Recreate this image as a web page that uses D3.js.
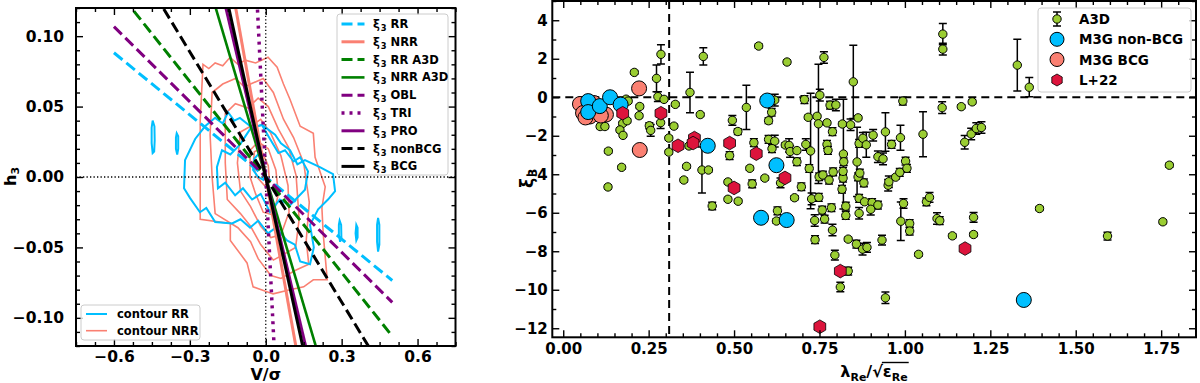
<!DOCTYPE html>
<html><head><meta charset="utf-8">
<script src="https://cdn.jsdelivr.net/npm/d3@7"></script>
<style>body{margin:0;background:#fff}svg{display:block}text{font-family:"DejaVu Sans",sans-serif;font-weight:bold;fill:#000}</style>
</head><body><svg id="c" width="1200" height="383"></svg>
<script>
// ---------------- DATA ----------------
// Left panel: fitted xi3 relations h3 = slope * (V/sigma)
const fitNames = ["RR","NRR","RR A3D","NRR A3D","OBL","TRI","PRO","nonBCG","BCG"];
const fitSlopes = [-0.147,-1.01,-0.226,-0.607,-0.178,-3.64,-0.762,-0.296,-0.822];
const fitRange = [-0.6, 0.5];
const contourNames = ["contour RR","contour NRR"];
const leftXTicks = [-0.6,-0.3,0,0.3,0.6];
const leftYTicks = [-0.10,-0.05,0,0.05,0.10];

// NRR density contours (V/sigma, h3)
const nrrContours = [
 [[-0.248,0.080],[-0.225,0.077],[-0.200,0.081],[-0.170,0.079],[-0.141,0.085],[-0.110,0.080],[-0.081,0.083],[-0.040,0.081],[0.009,0.085],[0.045,0.078],[0.070,0.066],[0.096,0.055],[0.136,0.036],[0.188,0.031],[0.195,0.014],[0.235,-0.007],[0.222,-0.022],[0.227,-0.040],[0.243,-0.073],[0.188,-0.073],[0.150,-0.078],[0.096,-0.080],[0.029,-0.083],[-0.050,-0.078],[-0.074,-0.061],[-0.140,-0.045],[-0.140,-0.033],[-0.259,-0.030],[-0.259,0.000],[-0.259,0.040]],
 [[-0.212,0.060],[-0.170,0.066],[-0.120,0.070],[-0.085,0.064],[-0.060,0.066],[-0.010,0.070],[0.030,0.060],[0.070,0.041],[0.110,0.028],[0.150,0.010],[0.172,-0.018],[0.160,-0.045],[0.170,-0.062],[0.120,-0.066],[0.060,-0.072],[0.020,-0.070],[-0.030,-0.058],[-0.060,-0.046],[-0.110,-0.036],[-0.200,-0.026],[-0.212,0.000],[-0.220,0.030]],
 [[-0.160,0.045],[-0.120,0.052],[-0.070,0.049],[-0.030,0.056],[0.010,0.050],[0.050,0.034],[0.090,0.021],[0.120,0.001],[0.132,-0.030],[0.118,-0.050],[0.070,-0.055],[0.030,-0.059],[-0.020,-0.048],[-0.060,-0.035],[-0.100,-0.026],[-0.152,-0.016],[-0.160,0.010]],
 [[-0.100,0.032],[-0.060,0.036],[-0.020,0.041],[0.020,0.031],[0.060,0.015],[0.088,-0.006],[0.092,-0.025],[0.060,-0.041],[0.020,-0.043],[-0.020,-0.035],[-0.060,-0.021],[-0.100,-0.010],[-0.112,0.010]],
 [[-0.062,0.019],[-0.030,0.025],[0.010,0.020],[0.040,0.005],[0.050,-0.012],[0.030,-0.027],[-0.010,-0.025],[-0.040,-0.012],[-0.062,0.000]],
 [[-0.045,0.018],[-0.020,0.020],[0.010,0.008],[0.015,-0.004],[-0.005,-0.006],[-0.035,0.000],[-0.050,0.008]]
];
// RR density contours
const rrContours = [
 [[-0.319,0.012],[-0.279,0.027],[-0.240,0.036],[-0.200,0.042],[-0.170,0.038],[-0.149,0.046],[-0.125,0.040],[-0.102,0.042],[-0.054,0.035],[-0.015,0.037],[0.037,0.030],[0.060,0.024],[0.096,0.019],[0.125,0.009],[0.155,0.012],[0.214,0.007],[0.266,0.002],[0.274,-0.010],[0.246,-0.016],[0.207,-0.023],[0.175,-0.034],[0.190,-0.050],[0.175,-0.062],[0.136,-0.060],[0.115,-0.048],[0.084,-0.045],[0.040,-0.036],[0.009,-0.040],[-0.030,-0.031],[-0.062,-0.036],[-0.100,-0.030],[-0.133,-0.033],[-0.200,-0.032],[-0.235,-0.022],[-0.260,-0.025],[-0.299,-0.015],[-0.323,-0.008]],
 [[-0.193,0.007],[-0.173,0.019],[-0.140,0.016],[-0.102,0.023],[-0.062,0.034],[-0.015,0.037],[0.017,0.027],[0.050,0.017],[0.076,0.019],[0.110,0.011],[0.136,0.014],[0.167,0.004],[0.155,-0.009],[0.096,-0.020],[0.055,-0.016],[0.017,-0.025],[-0.020,-0.012],[-0.054,-0.016],[-0.090,-0.008],[-0.121,-0.013],[-0.160,-0.004],[-0.189,-0.008]],
 [[-0.050,0.005],[-0.045,0.013],[-0.025,0.017],[-0.010,0.012],[0.000,0.004],[-0.010,-0.002],[-0.030,0.000]],
 [[-0.447,0.040],[-0.440,0.036],[-0.439,0.026],[-0.441,0.018],[-0.447,0.017],[-0.451,0.024],[-0.451,0.035]],
 [[-0.352,0.031],[-0.346,0.029],[-0.346,0.020],[-0.350,0.016],[-0.355,0.020],[-0.355,0.028]],
 [[0.292,-0.031],[0.298,-0.034],[0.299,-0.043],[0.294,-0.046],[0.289,-0.041],[0.289,-0.034]],
 [[0.358,-0.034],[0.363,-0.036],[0.363,-0.043],[0.358,-0.045],[0.355,-0.040]],
 [[0.444,-0.029],[0.449,-0.034],[0.449,-0.048],[0.444,-0.053],[0.440,-0.046],[0.440,-0.034]]
];

// Right panel: xi3 vs lambda_Re/sqrt(eps_Re)
const seriesNames = ["A3D","M3G non-BCG","M3G BCG","L+22"];
const rightXTicks = [0,0.25,0.5,0.75,1.0,1.25,1.5,1.75];
const rightYTicks = [-12,-10,-8,-6,-4,-2,0,2,4];
const lambdaCut = 0.31;
// A3D: [x, xi3, error]
const a3d = [
[0.108,-1.52,0.1],[0.122,-1.52,0.1],[0.132,-2.8,0.1],[0.131,-4.66,0.1],[0.174,-1.36,0.1],[0.187,-1.22,0.1],[0.166,-1.7,0.1],[0.175,-1.98,0.1],[0.171,-3.64,0.1],[0.184,-0.1,0.1],[0.19,-0.2,0.1],[0.208,1.29,0.1],[0.224,-0.48,0.1],[0.222,-0.96,0.1],[0.252,-1.48,0.15],[0.256,-1.72,0.3],[0.273,0.98,0.7],[0.286,2.23,0.5],[0.277,0.03,0.25],[0.295,-0.11,0.1],[0.285,-1.32,0.3],[0.309,-2.12,0.1],[0.309,-2.85,0.1],[0.324,-1.5,0.1],[0.328,-0.37,0.1],[0.371,0.25,1.05],[0.361,-3.59,0.1],[0.353,-4.3,0.1],[0.401,-0.9,0.1],[0.41,2.12,0.45],[0.406,-3.78,1.2],[0.425,-3.78,0.1],[0.436,-5.65,0.2],[0.368,-2.53,0.1],
[0.495,-1.2,0.25],[0.511,-1.78,0.15],[0.536,-0.53,1.15],[0.487,-3.03,0.2],[0.482,-4.4,0.1],[0.482,-5.3,0.1],[0.512,-5.4,0.1],[0.546,-3.69,0.1],[0.553,-4.5,0.2],[0.558,-2.36,0.2],[0.572,2.66,0.1],[0.59,-4.2,0.1],[0.601,-2.19,0.2],[0.61,-0.78,0.2],[0.601,-1.22,0.15],[0.619,-0.15,0.3],[0.619,-2.28,0.3],[0.611,-2.67,0.2],[0.627,-5.9,0.2],[0.624,-6.43,0.1],[0.636,-4.45,0.25],[0.65,-2.48,0.1],[0.655,1.83,0.1],[0.661,-2.5,0.35],[0.664,-2.82,0.3],[0.677,-5.22,0.1],[0.684,-2.77,0.1],[0.684,-3.35,0.2],[0.697,-4.65,0.2],[0.706,-0.12,0.2],[0.71,-2.45,0.3],[0.717,-1.04,0.1],[0.72,-3.7,0.2],[0.724,-2.79,3.0],[0.727,-5.28,0.3],[0.736,-6.4,0.3],[0.737,-7.4,0.2],[0.743,-0.99,0.1],[0.747,-1.38,3.1],[0.751,0.11,0.3],[0.749,-4.13,0.2],[0.748,-5.2,0.2],[0.758,-5.86,0.2],[0.763,2.07,0.3],[0.76,-4.04,0.2],[0.765,-6.33,0.2],[0.772,-1.33,0.1],[0.772,-2.45,0.2],[0.775,-2.76,0.2],[0.781,-0.41,0.2],[0.778,-4.3,0.2],[0.788,-6.9,0.3],[0.788,-1.79,0.2],[0.798,-0.4,0.3],[0.785,-5.74,0.2],[0.795,-8.2,0.25],[0.79,-3.88,0.2],[0.811,-9.86,0.25],[0.817,-1.39,0.1],[0.82,-2.95,2.85],[0.821,-3.35,0.2],[0.819,-4.2,0.2],[0.819,-3.85,0.2],[0.816,-4.78,0.2],[0.827,-5.66,0.2],[0.827,-6.14,0.2],[0.834,-7.37,0.1],[0.834,-9.03,0.2],[0.841,-1.43,0.3],[0.849,0.8,1.9],[0.86,-3.36,1.8],[0.863,-4.14,0.2],[0.866,-5.25,0.2],[0.866,-6.03,0.3],[0.863,-1.07,0.1],[0.866,-2.4,0.2],[0.877,-2.13,0.3],[0.887,-2.47,0.65],[0.868,-3.94,0.2],[0.88,-4.45,0.2],[0.858,-7.63,0.2],[0.876,-7.89,0.3],[0.889,-7.8,0.25],[0.882,-5.43,0.1],[0.904,-5.47,0.2],[0.9,-5.82,0.3],[0.921,-5.6,0.2],[0.907,-1.97,0.3],[0.921,-3.09,0.3],[0.936,-3.2,0.3],[0.943,-1.8,1.0],[0.933,-7.42,0.25],[0.943,-10.42,0.3],[0.951,-4.57,0.3],[0.961,-2.45,0.2],[0.953,-4.39,0.3],[0.973,-4.15,0.1],[0.985,-3.9,0.2],[1.002,-3.32,0.2],[1.006,-3.69,0.2],[0.987,-2.1,0.65],[0.994,-0.2,0.2],[0.996,-5.52,0.25],[0.988,-6.44,1.0],[1.014,-6.56,0.2],[1.014,-6.95,0.2],[1.04,-8.16,0.1],[1.053,-1.92,1.17],[1.063,-5.43,0.2],[1.072,-5.2,0.25],[1.094,-6.3,0.3],[1.102,-6.41,0.2],[1.109,-0.54,0.3],[1.111,3.28,0.55],[1.111,2.5,0.3],[1.139,-7.2,0.1],[1.165,-0.49,0.1],[1.175,-2.34,0.35],[1.197,-0.24,0.1],[1.194,-1.91,0.3],[1.209,-1.62,0.3],[1.224,-1.57,0.3],[1.201,-6.24,0.25],[1.201,-7.13,0.1],[1.329,1.67,1.34],[1.364,0.52,0.5],[1.394,-5.78,0.1],[1.593,-7.21,0.2],[1.755,-6.47,0.1],[1.774,-3.53,0.1]
];
const m3gNonBCG = [[0.073,-0.2],[0.073,-0.77],[0.107,-0.46],[0.137,0.0],[0.168,-0.38],[0.597,-0.17],[0.423,-2.52],[0.624,-3.53],[0.579,-6.26],[0.654,-6.38],[1.348,-10.53]];
const m3gBCG = [[0.049,-0.35],[0.058,-0.82],[0.078,-1.0],[0.098,-0.5],[0.125,-0.9],[0.09,-0.3],[0.065,-1.05],[0.11,-0.95],[0.222,0.46],[0.224,-2.74]];
const l22 = [[0.174,-0.83],[0.286,-0.83],[0.336,-2.52],[0.384,-2.12],[0.38,-2.38],[0.487,-2.38],[0.5,-4.71],[0.565,-2.93],[0.649,-4.19],[0.811,-9.03],[0.751,-11.92],[1.176,-7.86]];

// ---------------- STYLE / LAYOUT ----------------
const svg = d3.select("#c");
const defs = svg.append("defs");
const fitStyle = [
 {c:"#00BFFF",d:"11,5",w:3},{c:"#FA8072",d:null,w:3},{c:"green",d:"11,5",w:3},{c:"green",d:null,w:2.6},
 {c:"purple",d:"11,5",w:3},{c:"purple",d:"3,5",w:3.5},{c:"purple",d:null,w:3},{c:"black",d:"11,5",w:3},{c:"black",d:null,w:3}];

function xiText(t, rest, sub){
  t.append("tspan").text("ξ");
  t.append("tspan").attr("font-size","72%").attr("dx",1).attr("dy",sub).text("3");
  if(rest) t.append("tspan").attr("dy",-sub).text(" "+rest);
}

function drawAxes(g, sx, sy, box, xMaj, yMaj, xMinStep, yMinStep, fx, fy, fs, padX, padY){
  const xd = sx.domain(), yd = sy.domain();
  const xMin = d3.range(Math.ceil(xd[0]/xMinStep-1e-6)*xMinStep, xd[1]+1e-9, xMinStep).filter(v=>!xMaj.some(m=>Math.abs(m-v)<1e-6));
  const yMin = d3.range(Math.ceil(yd[0]/yMinStep-1e-6)*yMinStep, yd[1]+1e-9, yMinStep).filter(v=>!yMaj.some(m=>Math.abs(m-v)<1e-6));
  const mk=(axis,tr)=>{const a=g.append("g").attr("transform",tr).call(axis);a.select(".domain").remove();
    a.selectAll("line").attr("stroke","#000").attr("stroke-width",1.4);
    a.selectAll("text").attr("font-size",fs).attr("font-family","DejaVu Sans").attr("font-weight","bold").attr("fill","#000");};
  mk(d3.axisBottom(sx).tickValues(xMaj).tickSize(-7).tickPadding(padX).tickFormat(fx),`translate(0,${box.y1})`);
  mk(d3.axisBottom(sx).tickValues(xMin).tickSize(-4).tickFormat(""),`translate(0,${box.y1})`);
  mk(d3.axisTop(sx).tickValues(xMaj).tickSize(-7).tickFormat(""),`translate(0,${box.y0})`);
  mk(d3.axisTop(sx).tickValues(xMin).tickSize(-4).tickFormat(""),`translate(0,${box.y0})`);
  mk(d3.axisLeft(sy).tickValues(yMaj).tickSize(-7).tickPadding(padY).tickFormat(fy),`translate(${box.x0},0)`);
  mk(d3.axisLeft(sy).tickValues(yMin).tickSize(-4).tickFormat(""),`translate(${box.x0},0)`);
  mk(d3.axisRight(sy).tickValues(yMaj).tickSize(-7).tickFormat(""),`translate(${box.x1},0)`);
  mk(d3.axisRight(sy).tickValues(yMin).tickSize(-4).tickFormat(""),`translate(${box.x1},0)`);
  g.append("rect").attr("x",box.x0).attr("y",box.y0).attr("width",box.x1-box.x0).attr("height",box.y1-box.y0)
    .attr("fill","none").attr("stroke","#000").attr("stroke-width",2);
}

// ---------------- LEFT PANEL ----------------
const L = {x0:76, x1:455.5, y0:8, y1:346};
const xL = d3.scaleLinear().domain([-0.75,0.75]).range([L.x0,L.x1]);
const yL = d3.scaleLinear().domain([-0.12,0.12]).range([L.y1,L.y0]);
defs.append("clipPath").attr("id","clipL").append("rect").attr("x",L.x0).attr("y",L.y0).attr("width",L.x1-L.x0).attr("height",L.y1-L.y0);
const gL = svg.append("g").attr("clip-path","url(#clipL)");
const ring = d3.line().x(d=>xL(d[0])).y(d=>yL(d[1])).curve(d3.curveLinearClosed);
nrrContours.forEach(r=>gL.append("path").attr("d",ring(r)).attr("fill","none").attr("stroke","#FA8072").attr("stroke-width",1.6));
rrContours.forEach(r=>gL.append("path").attr("d",ring(r)).attr("fill","none").attr("stroke","#00BFFF").attr("stroke-width",2));
gL.append("line").attr("x1",xL(-0.75)).attr("x2",xL(0.75)).attr("y1",yL(0)).attr("y2",yL(0)).attr("stroke","#000").attr("stroke-width",1.3).attr("stroke-dasharray","1.3,2.2");
gL.append("line").attr("x1",xL(0)).attr("x2",xL(0)).attr("y1",yL(-0.12)).attr("y2",yL(0.12)).attr("stroke","#000").attr("stroke-width",1.3).attr("stroke-dasharray","1.3,2.2");
const fitLine = d3.line().x(d=>xL(d[0])).y(d=>yL(d[1]));
fitSlopes.forEach((s,i)=>{
  const st=fitStyle[i];
  gL.append("path").attr("d",fitLine(fitRange.map(x=>[x,s*x]))).attr("fill","none")
    .attr("stroke",st.c).attr("stroke-width",st.w).attr("stroke-dasharray",st.d);
});
drawAxes(svg.append("g"), xL, yL, L, leftXTicks, leftYTicks, 0.075, 0.01, d3.format(".1f"), d3.format(".2f"), 15.5, 5, 12);

// left legend (fits)
const lg = svg.append("g");
lg.append("rect").attr("x",337).attr("y",14).attr("width",111).attr("height",161).attr("rx",3)
  .attr("fill","#fff").attr("fill-opacity",0.8).attr("stroke","#ccc").attr("stroke-width",1);
fitNames.forEach((n,i)=>{
  const y = 24 + i*17.8, st = fitStyle[i];
  lg.append("line").attr("x1",341.5).attr("x2",364.5).attr("y1",y).attr("y2",y).attr("stroke",st.c)
    .attr("stroke-width",st.w).attr("stroke-dasharray",st.d);
  xiText(lg.append("text").attr("x",373).attr("y",y+4).attr("font-size",11.5), n, 3);
});
// contour legend
const lg2 = svg.append("g");
lg2.append("rect").attr("x",81).attr("y",305).attr("width",119).attr("height",35).attr("rx",3)
  .attr("fill","#fff").attr("fill-opacity",0.8).attr("stroke","#ccc").attr("stroke-width",1);
contourNames.forEach((n,i)=>{
  const y = 314 + i*16.7;
  lg2.append("line").attr("x1",86).attr("x2",107).attr("y1",y).attr("y2",y).attr("stroke",i?"#FA8072":"#00BFFF").attr("stroke-width",i?1.6:2);
  lg2.append("text").attr("x",117).attr("y",y+4).attr("font-size",11.5).text(n);
});
// left axis labels
svg.append("text").attr("x",xL(0)).attr("y",380).attr("text-anchor","middle").attr("font-size",16).text("V/σ");
const hl = svg.append("text").attr("transform","translate(16,186) rotate(-90)").attr("font-size",16);
hl.append("tspan").text("h"); hl.append("tspan").attr("font-size",11).attr("dy",3).text("3");

// ---------------- RIGHT PANEL ----------------
const R = {x0:552.3, x1:1196, y0:1, y1:337.3};
const xR = d3.scaleLinear().domain([-0.032,1.852]).range([R.x0,R.x1]);
const yR = d3.scaleLinear().domain([-12.47,5.0]).range([R.y1,R.y0]);
defs.append("clipPath").attr("id","clipR").append("rect").attr("x",R.x0).attr("y",R.y0).attr("width",R.x1-R.x0).attr("height",R.y1-R.y0);
const gR = svg.append("g").attr("clip-path","url(#clipR)");
gR.append("line").attr("x1",R.x0).attr("x2",R.x1).attr("y1",yR(0)).attr("y2",yR(0)).attr("stroke","#000").attr("stroke-width",2).attr("stroke-dasharray","8,5");
gR.append("line").attr("x1",xR(lambdaCut)).attr("x2",xR(lambdaCut)).attr("y1",R.y0).attr("y2",R.y1).attr("stroke","#000").attr("stroke-width",2).attr("stroke-dasharray","8,5");

// error bars
const eb = gR.append("g").attr("stroke","#000").attr("stroke-width",1.5);
a3d.forEach(d=>{
  const x=xR(d[0]), yt=yR(d[1]+d[2]), yb=yR(d[1]-d[2]);
  eb.append("line").attr("x1",x).attr("x2",x).attr("y1",yt).attr("y2",yb);
  eb.append("line").attr("x1",x-4).attr("x2",x+4).attr("y1",yt).attr("y2",yt);
  eb.append("line").attr("x1",x-4).attr("x2",x+4).attr("y1",yb).attr("y2",yb);
});
gR.append("g").selectAll("circle").data(a3d).join("circle").attr("cx",d=>xR(d[0])).attr("cy",d=>yR(d[1])).attr("r",4.2)
  .attr("fill","#9ACD32").attr("stroke","#000").attr("stroke-width",1);
gR.append("g").selectAll("circle").data(m3gBCG).join("circle").attr("cx",d=>xR(d[0])).attr("cy",d=>yR(d[1])).attr("r",7.5)
  .attr("fill","#FA8072").attr("stroke","#000").attr("stroke-width",1);
gR.append("g").selectAll("circle").data(m3gNonBCG).join("circle").attr("cx",d=>xR(d[0])).attr("cy",d=>yR(d[1])).attr("r",7.5)
  .attr("fill","#00BFFF").attr("stroke","#000").attr("stroke-width",1);
const hexPath = r => d3.line()(d3.range(6).map(i=>[r*Math.cos(-Math.PI/2+i*Math.PI/3), r*Math.sin(-Math.PI/2+i*Math.PI/3)]))+"Z";
gR.append("g").selectAll("path").data(l22).join("path").attr("d",hexPath(6.8))
  .attr("transform",d=>`translate(${xR(d[0])},${yR(d[1])})`).attr("fill","#DC143C").attr("stroke","#000").attr("stroke-width",0.8);

drawAxes(svg.append("g"), xR, yR, R, rightXTicks, rightYTicks, 0.05, 1, d3.format(".2f"), d3.format("d"), 15, 6, 4.5);

// right legend
const rg = svg.append("g");
rg.append("rect").attr("x",1038).attr("y",8).attr("width",153).attr("height",84).attr("rx",3)
  .attr("fill","#fff").attr("fill-opacity",0.8).attr("stroke","#ccc").attr("stroke-width",1);
const legY = [19,39.3,59.5,80], mx = 1057;
rg.append("line").attr("x1",mx).attr("x2",mx).attr("y1",legY[0]-7).attr("y2",legY[0]+7).attr("stroke","#000").attr("stroke-width",1.5);
rg.append("line").attr("x1",mx-4).attr("x2",mx+4).attr("y1",legY[0]-7).attr("y2",legY[0]-7).attr("stroke","#000").attr("stroke-width",1.5);
rg.append("line").attr("x1",mx-4).attr("x2",mx+4).attr("y1",legY[0]+7).attr("y2",legY[0]+7).attr("stroke","#000").attr("stroke-width",1.5);
rg.append("circle").attr("cx",mx).attr("cy",legY[0]).attr("r",4.2).attr("fill","#9ACD32").attr("stroke","#000");
rg.append("circle").attr("cx",mx).attr("cy",legY[1]).attr("r",7).attr("fill","#00BFFF").attr("stroke","#000");
rg.append("circle").attr("cx",mx).attr("cy",legY[2]).attr("r",7).attr("fill","#FA8072").attr("stroke","#000");
rg.append("path").attr("d",hexPath(6)).attr("transform",`translate(${mx},${legY[3]})`).attr("fill","#DC143C").attr("stroke","#000").attr("stroke-width",0.8);
seriesNames.forEach((n,i)=>rg.append("text").attr("x",1079).attr("y",legY[i]+5).attr("font-size",13.5).text(n));

// right axis labels
const yl = svg.append("text").attr("transform","translate(533,188) rotate(-90)").attr("font-size",17);
xiText(yl, null, 4);
const xg = svg.append("g");
const t1 = xg.append("text").attr("y",377).attr("font-size",16);
t1.append("tspan").text("λ"); t1.append("tspan").attr("font-size",11).attr("dy",4).text("Re"); t1.append("tspan").attr("dy",-4).text("/√");
const t2 = xg.append("text").attr("y",377).attr("font-size",16);
t2.append("tspan").text("ε"); t2.append("tspan").attr("font-size",11).attr("dy",4).text("Re");
const w1 = t1.node().getComputedTextLength(), w2 = t2.node().getComputedTextLength();
const sx0 = 874 - (w1+w2)/2;
t1.attr("x",sx0); t2.attr("x",sx0+w1);
xg.append("line").attr("x1",sx0+w1-1).attr("x2",sx0+w1+w2+1).attr("y1",362.5).attr("y2",362.5).attr("stroke","#000").attr("stroke-width",1.4);
</script></body></html>
